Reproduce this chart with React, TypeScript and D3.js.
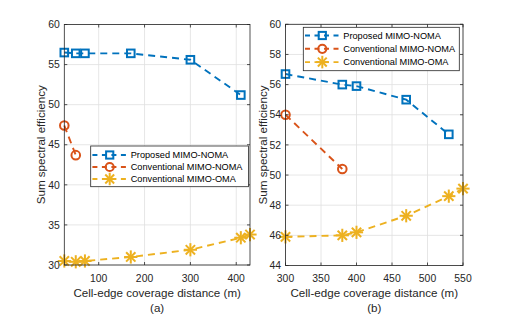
import React from 'react';
import * as d3 from 'd3';

// panel (a)
const aProposedX = [25, 50, 70, 170, 300, 410];
const aProposedY = [56.5, 56.4, 56.4, 56.4, 55.6, 51.2];
const aConvX = [25, 50];
const aConvY = [47.4, 43.7];
const aOmaX = [25, 50, 70, 170, 300, 410, 430];
const aOmaY = [30.5, 30.4, 30.5, 31.0, 31.9, 33.4, 33.8];
const aXTicks = [100, 200, 300, 400];
const aYTicks = [30, 35, 40, 45, 50, 55, 60];

// panel (b)
const bProposedX = [300, 380, 400, 470, 530];
const bProposedY = [56.7, 56.0, 55.9, 55.0, 52.7];
const bConvX = [300, 380];
const bConvY = [54.0, 50.4];
const bOmaX = [300, 380, 400, 470, 530, 550];
const bOmaY = [45.9, 46.0, 46.2, 47.3, 48.6, 49.1];
const bXTicks = [300, 350, 400, 450, 500, 550];
const bYTicks = [44, 46, 48, 50, 52, 54, 56, 58, 60];

const seriesNames = ['Proposed MIMO-NOMA', 'Conventional MIMO-NOMA', 'Conventional MIMO-OMA'];
const colors = ['#0072BD', '#D95319', '#EDB120'];
const markerKinds = ['square', 'circle', 'star'];

const FONT = '"Liberation Sans", Arial, sans-serif';
const AX = '#262626';

const Marker = ({ kind, x, y, color, scale = 1 }: any) => {
  if (kind === 'square') {
    const s = 7.6 * scale;
    return <rect x={x - s / 2} y={y - s / 2} width={s} height={s} fill="none" stroke={color} strokeWidth={2} />;
  }
  if (kind === 'circle') {
    return <circle cx={x} cy={y} r={4.3 * scale} fill="none" stroke={color} strokeWidth={2} />;
  }
  const r = 6.6 * scale;
  const angles = [0, 45, 90, 135];
  return (
    <g stroke={color} strokeWidth={2}>
      {angles.map(a => {
        const t = (a * Math.PI) / 180;
        return <line key={a} x1={x - r * Math.cos(t)} y1={y - r * Math.sin(t)} x2={x + r * Math.cos(t)} y2={y + r * Math.sin(t)} />;
      })}
    </g>
  );
};

const Panel = ({ xDomain, yDomain, xRange, yRange, xTicks, yTicks, series, legend, ylabelX, tag }: any) => {
  const x = d3.scaleLinear().domain(xDomain).range(xRange);
  const y = d3.scaleLinear().domain(yDomain).range(yRange);
  const [x0, x1] = xRange;
  const [y0, y1] = yRange; // y0 bottom, y1 top
  const line = d3.line<[number, number]>().x(d => x(d[0])).y(d => y(d[1]));
  const tl = 3;
  const cx = (x0 + x1) / 2;
  return (
    <g>
      <rect x={x0} y={y1} width={x1 - x0} height={y0 - y1} fill="#fff" />
      {xTicks.map((t: number) => (
        <line key={'gx' + t} x1={x(t)} x2={x(t)} y1={y1} y2={y0} stroke="#e0e0e0" strokeWidth={0.8} />
      ))}
      {yTicks.map((t: number) => (
        <line key={'gy' + t} x1={x0} x2={x1} y1={y(t)} y2={y(t)} stroke="#e0e0e0" strokeWidth={0.8} />
      ))}
      {series.map((s: any, i: number) => (
        <g key={i}>
          <path d={line(s.xs.map((v: number, j: number) => [v, s.ys[j]])) || ''} fill="none" stroke={colors[i]} strokeWidth={1.9} strokeDasharray="7,5" />
          {s.xs.map((v: number, j: number) => (
            <Marker key={j} kind={markerKinds[i]} x={x(v)} y={y(s.ys[j])} color={colors[i]} />
          ))}
        </g>
      ))}
      <rect x={x0} y={y1} width={x1 - x0} height={y0 - y1} fill="none" stroke={AX} strokeWidth={0.8} />
      {xTicks.map((t: number) => (
        <g key={'tx' + t}>
          <line x1={x(t)} x2={x(t)} y1={y0} y2={y0 - tl} stroke={AX} strokeWidth={0.8} />
          <line x1={x(t)} x2={x(t)} y1={y1} y2={y1 + tl} stroke={AX} strokeWidth={0.8} />
          <text x={x(t)} y={281.7} textAnchor="middle" fontSize={10.4} fill={AX} fontFamily={FONT}>{t}</text>
        </g>
      ))}
      {yTicks.map((t: number) => (
        <g key={'ty' + t}>
          <line x1={x0} x2={x0 + tl} y1={y(t)} y2={y(t)} stroke={AX} strokeWidth={0.8} />
          <line x1={x1} x2={x1 - tl} y1={y(t)} y2={y(t)} stroke={AX} strokeWidth={0.8} />
          <text x={x0 - 4.5} y={y(t) + 3.7} textAnchor="end" fontSize={10.4} fill={AX} fontFamily={FONT}>{t}</text>
        </g>
      ))}
      <text x={cx} y={297} textAnchor="middle" fontSize={11.6} fill={AX} fontFamily={FONT}>Cell-edge coverage distance (m)</text>
      <text x={cx} y={311.5} textAnchor="middle" fontSize={11.6} fill={AX} fontFamily={FONT}>{tag}</text>
      <text transform={`translate(${ylabelX},${(y0 + y1) / 2}) rotate(-90)`} textAnchor="middle" fontSize={11.6} fill={AX} fontFamily={FONT}>Sum spectral efficiency</text>
      <g>
        <rect x={legend.x} y={legend.y} width={legend.w} height={legend.h} fill="#fff" stroke={AX} strokeWidth={0.8} />
        {seriesNames.map((name, i) => {
          const ry = legend.y + legend.top + i * legend.step;
          return (
            <g key={name}>
              <line x1={legend.x + 1.7} x2={legend.x + 36} y1={ry} y2={ry} stroke={colors[i]} strokeWidth={1.9} strokeDasharray="5,4.5" />
              <Marker kind={markerKinds[i]} x={legend.x + 19} y={ry} color={colors[i]} scale={0.95} />
              <text x={legend.x + 40} y={ry + 3.3} fontSize={9.2} fill="#000" fontFamily={FONT}>{name}</text>
            </g>
          );
        })}
      </g>
    </g>
  );
};

const App = () => {
  return (
    <svg width={512} height={317} style={{ position: 'absolute', left: 0, top: 0, background: '#fff' }}>
      <rect width={512} height={317} fill="#fff" />
      <Panel
        xDomain={[25, 430]} yDomain={[30, 60]} xRange={[64.3, 250]} yRange={[265, 24.5]}
        xTicks={aXTicks} yTicks={aYTicks}
        series={[{ xs: aProposedX, ys: aProposedY }, { xs: aConvX, ys: aConvY }, { xs: aOmaX, ys: aOmaY }]}
        legend={{ x: 90.7, y: 146, w: 157.8, h: 40.7, top: 9, step: 12 }}
        ylabelX={44.5} tag="(a)"
      />
      <Panel
        xDomain={[300, 550]} yDomain={[44, 60]} xRange={[285.5, 463]} yRange={[265.5, 24.3]}
        xTicks={bXTicks} yTicks={bYTicks}
        series={[{ xs: bProposedX, ys: bProposedY }, { xs: bConvX, ys: bConvY }, { xs: bOmaX, ys: bOmaY }]}
        legend={{ x: 303.3, y: 27.3, w: 156, h: 43.4, top: 8.2, step: 13.3 }}
        ylabelX={267} tag="(b)"
      />
    </svg>
  );
};

export default App;
